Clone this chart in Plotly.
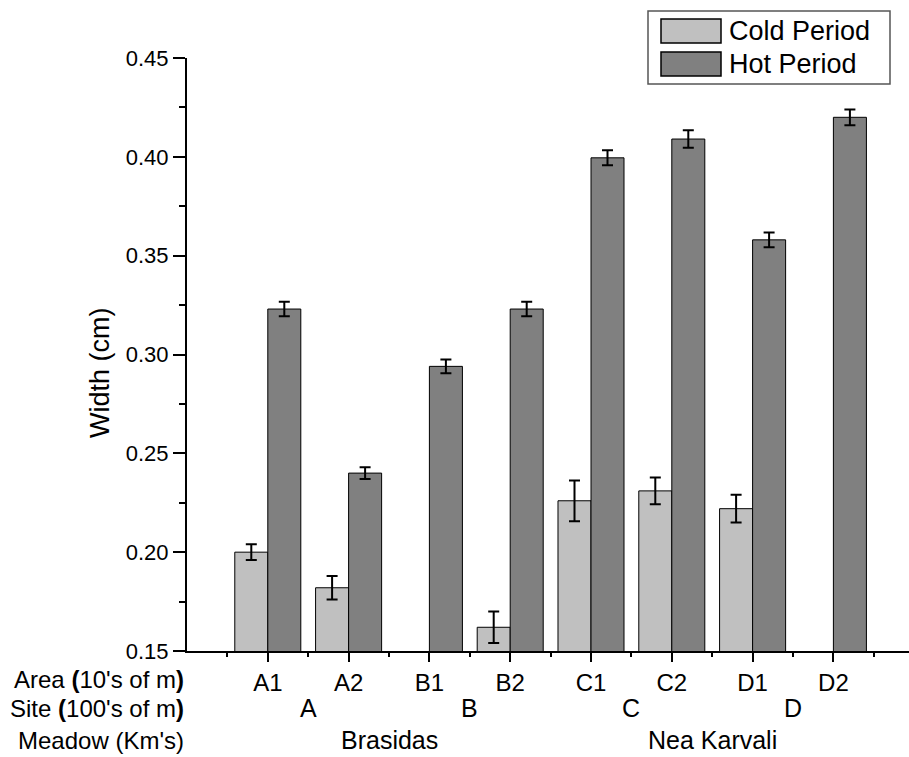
import plotly.graph_objects as go

# ---------------- data ----------------
areas = ["A1", "A2", "B1", "B2", "C1", "C2", "D1", "D2"]
area_site = ["A", "A", "B", "B", "C", "C", "D", "D"]
area_meadow = ["Brasidas", "Brasidas", "Brasidas", "Brasidas",
               "Nea Karvali", "Nea Karvali", "Nea Karvali", "Nea Karvali"]
sites = ["A", "B", "C", "D"]
meadows = ["Brasidas", "Nea Karvali"]

cold = [0.200, 0.182, None, 0.162, 0.226, 0.231, 0.222, None]
cold_err = [0.004, 0.006, None, 0.008, 0.0103, 0.0068, 0.007, None]
hot = [0.323, 0.240, 0.294, 0.323, 0.3995, 0.409, 0.358, 0.420]
hot_err = [0.0037, 0.003, 0.0035, 0.0037, 0.0038, 0.0044, 0.0037, 0.004]

row_labels = ["Area <b>(</b>10's of m<b>)</b>", "Site <b>(</b>100's of m<b>)</b>", "Meadow (Km's)"]
y_ticks = [0.15, 0.20, 0.25, 0.30, 0.35, 0.40, 0.45]

# ---------------- layout geometry ----------------
W, H = 909, 757
L, R, T, B = 187, 0, 58, 106
PW, PH = W - L - R, H - T - B
FONT = "Liberation Sans, Arial, sans-serif"


def px_x(p):
    return (p - L) / PW


def px_y(p):
    return (H - B - p) / PH


xpos = list(range(len(areas)))

fig = go.Figure()
fig.add_trace(go.Bar(
    x=xpos, y=cold, name="Cold Period",
    marker=dict(color="#c0c0c0", line=dict(color="#000000", width=1)),
    error_y=dict(type="data", array=cold_err, color="#000000", thickness=2, width=5.5),
))
fig.add_trace(go.Bar(
    x=xpos, y=hot, name="Hot Period",
    marker=dict(color="#808080", line=dict(color="#000000", width=1)),
    error_y=dict(type="data", array=hot_err, color="#000000", thickness=2, width=5.5),
))

annotations = []
# site labels (centered under their areas)
for s in sites:
    idx = [i for i, v in enumerate(area_site) if v == s]
    annotations.append(dict(x=sum(idx) / len(idx), xref="x", y=px_y(708), yref="paper",
                            text=s, showarrow=False, xanchor="center", yanchor="middle",
                            font=dict(size=25, color="#000", family=FONT)))
for m in meadows:
    idx = [i for i, v in enumerate(area_meadow) if v == m]
    annotations.append(dict(x=sum(idx) / len(idx), xref="x", y=px_y(740), yref="paper",
                            text=m, showarrow=False, xanchor="center", yanchor="middle",
                            font=dict(size=25, color="#000", family=FONT)))
for lab, yy in zip(row_labels, [679, 708, 740]):
    annotations.append(dict(x=px_x(186), xref="paper", y=px_y(yy), yref="paper",
                            text=lab, showarrow=False, xanchor="right", yanchor="middle",
                            font=dict(size=24, color="#000", family=FONT)))
# y-axis title
annotations.append(dict(x=px_x(100), xref="paper", y=px_y(373), yref="paper",
                        text="Width (cm)", textangle=-90, showarrow=False,
                        xanchor="center", yanchor="middle",
                        font=dict(size=27, color="#000", family=FONT)))

# custom legend
shapes = [dict(type="rect", xref="paper", yref="paper",
               x0=px_x(648), x1=px_x(890), y0=px_y(84), y1=px_y(11),
               line=dict(color="#555555", width=1.5), fillcolor="white", layer="above")]
for tr, (ya, yb), yc in zip(fig.data, [(19, 43), (52, 76)], [31, 64]):
    shapes.append(dict(type="rect", xref="paper", yref="paper",
                       x0=px_x(661), x1=px_x(721), y0=px_y(yb), y1=px_y(ya),
                       line=dict(color="#000", width=1.5), fillcolor=tr.marker.color,
                       layer="above"))
    annotations.append(dict(x=px_x(727), xref="paper", y=px_y(yc), yref="paper",
                            text=tr.name, showarrow=False, xanchor="left", yanchor="middle",
                            font=dict(size=27, color="#000", family=FONT)))

fig.update_layout(
    width=W, height=H,
    margin=dict(l=L, r=R, t=T, b=B, pad=0),
    paper_bgcolor="white", plot_bgcolor="white",
    barmode="group", bargap=0.183, bargroupgap=0,
    showlegend=False,
    font=dict(family=FONT, color="#000", size=21),
    annotations=annotations, shapes=shapes,
)
fig.update_xaxes(
    range=[-1, (W - R - L) / 80.8 - 1], tickmode="array", tickvals=xpos, ticktext=areas,
    showline=True, linecolor="#000", linewidth=2, ticks="outside", ticklen=9,
    tickwidth=2, tickcolor="#000", showgrid=False, zeroline=False,
    tickfont=dict(size=24, color="#000", family=FONT),
    minor=dict(tickvals=[i - 0.5 for i in range(len(areas) + 1)], ticks="outside",
               ticklen=4, tickwidth=2, tickcolor="#000", showgrid=False),
)
fig.update_yaxes(
    range=[0.15, 0.45], tickmode="array", tickvals=y_ticks,
    ticktext=[f"{v:.2f}" for v in y_ticks],
    showline=True, linecolor="#000", linewidth=2, ticks="outside", ticklen=12,
    tickwidth=2, tickcolor="#000", showgrid=False, zeroline=False,
    tickfont=dict(size=22, color="#000", family=FONT),
    minor=dict(tickvals=[0.175, 0.225, 0.275, 0.325, 0.375, 0.425], ticks="outside",
               ticklen=6, tickwidth=2, tickcolor="#000", showgrid=False),
)

fig.write_html("out.html")
